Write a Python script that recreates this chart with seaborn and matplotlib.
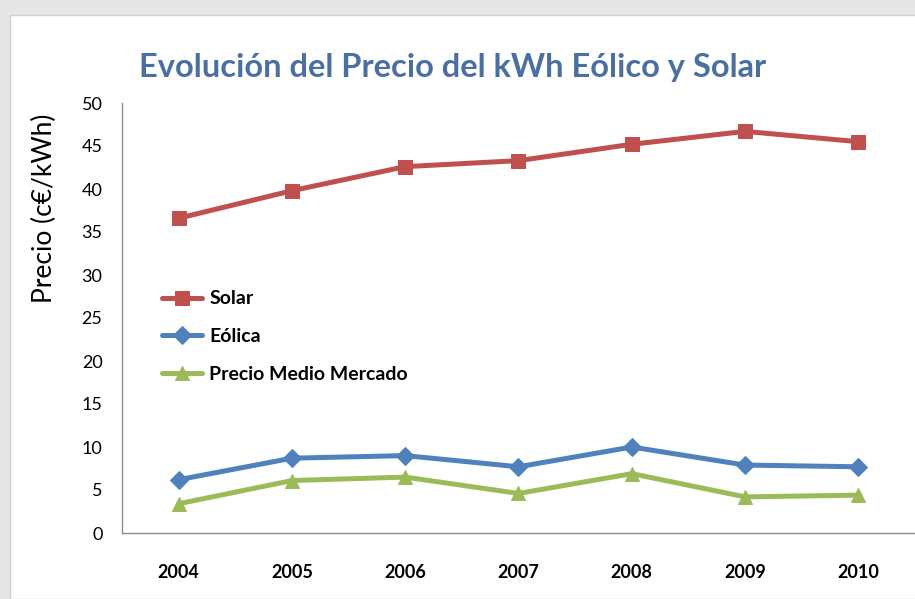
import matplotlib
matplotlib.use("Agg")
import matplotlib.pyplot as plt
import matplotlib.font_manager as fm
from matplotlib.patches import Rectangle
import seaborn as sns
import pandas as pd

years = [2004, 2005, 2006, 2007, 2008, 2009, 2010]
solar = [36.6, 39.8, 42.6, 43.3, 45.2, 46.7, 45.5]
eolica = [6.2, 8.7, 9.0, 7.7, 10.0, 7.9, 7.7]
mercado = [3.4, 6.1, 6.5, 4.6, 6.9, 4.2, 4.4]
series_names = ["Solar", "Eólica", "Precio Medio Mercado"]
colors = ["#C0504D", "#4F81BD", "#9BBB59"]
markers = ["s", "D", "^"]
yticks = list(range(0, 51, 5))

sns.set_theme(style="white")
names = {f.name for f in fm.fontManager.ttflist}
narrow = "Liberation Sans Narrow" if "Liberation Sans Narrow" in names else "Lato"
plt.rcParams["font.family"] = [narrow, "DejaVu Sans"]

df = pd.DataFrame({
    "year": years * 3,
    "precio": solar + eolica + mercado,
    "serie": [s for s in series_names for _ in years],
})

fig = plt.figure(figsize=(9.15, 5.99), dpi=100)
fig.patch.set_facecolor("#e6e6e6")
fig.patches.append(Rectangle((10 / 915, 0), 1, 1 - 15 / 599, transform=fig.transFigure,
                             facecolor="white", edgecolor="#d0d0d0", lw=1, zorder=-1))

ax = fig.add_axes([122 / 915, 66 / 599, 1 - 122 / 915, (533 - 103) / 599])
ax.set_facecolor("none")
for name, c, m in zip(series_names, colors, markers):
    sub = df[df["serie"] == name]
    sns.lineplot(data=sub, x="year", y="precio", ax=ax, color=c, lw=3.6,
                 marker=m, markersize=10.5 if m != "D" else 9, markeredgecolor=c,
                 label=name)

ax.set_xlim(2003.5, 2010.5)
ax.set_ylim(0, 50)
ax.set_xticks(years)
ax.set_xticklabels([str(y) for y in years], fontsize=13, fontweight="bold", color="black")
ax.set_yticks(yticks)
ax.set_yticklabels([str(v) for v in yticks], fontsize=13, color="black")
ax.tick_params(axis="x", pad=22, length=0)
ax.tick_params(axis="y", pad=14, length=0)
ax.set_xlabel("")
ax.set_ylabel("Precio (c€/kWh)", fontsize=19, color="black")
ax.yaxis.set_label_coords(-0.082, 0.756)
for s in ["top", "right"]:
    ax.spines[s].set_visible(False)
for s in ["left", "bottom"]:
    ax.spines[s].set_color("#8c8c8c")
    ax.spines[s].set_linewidth(1)

leg = ax.legend(loc="upper left", bbox_to_anchor=(0.029, 0.605), frameon=False,
                fontsize=14, handlelength=2.05, labelspacing=1.06, handletextpad=0.35)
for t in leg.get_texts():
    t.set_fontweight("bold")
    t.set_color("black")

fig.text(453 / 915, 1 - 67 / 599, "Evolución del Precio del kWh Eólico y Solar",
         ha="center", va="center", fontsize=23.5, fontweight="bold", color="#4A6FA0")

fig.savefig("out.png", dpi=100)
